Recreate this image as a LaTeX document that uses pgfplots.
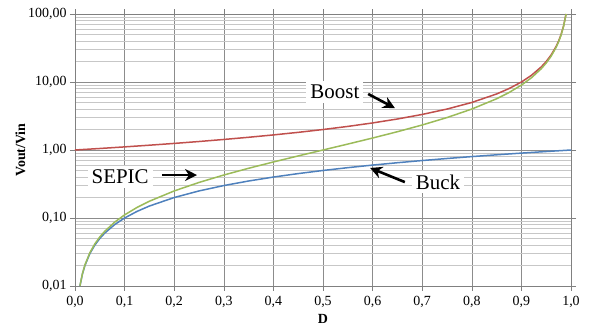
\documentclass[border=0pt]{standalone}
\usepackage{fontspec}
\setmainfont{Liberation Serif}
\usepackage{pgfplots}
\pgfplotsset{compat=1.18}
\usetikzlibrary{arrows.meta}
\definecolor{cred}{RGB}{192,80,77}
\definecolor{cgreen}{RGB}{155,187,89}
\definecolor{cblue}{RGB}{79,129,189}
\begin{document}
\begin{tikzpicture}
\path[use as bounding box] (-75bp,-43bp) rectangle (514bp,286bp);
\begin{axis}[at={(0,0)}, anchor=south west,
  scale only axis, width=496bp, height=272bp,
  xmin=0, xmax=1, ymode=log, ymin=0.01, ymax=100,
  xtick={0,0.1,...,1},
  xticklabels={{0,0},{0,1},{0,2},{0,3},{0,4},{0,5},{0,6},{0,7},{0,8},{0,9},{1,0}},
  ytick={0.01,0.1,1,10,100},
  yticklabels={{0,01},{0,10},{1,00},{10,00},{100,00}},
  minor ytick={0.02,0.03,0.04,0.05,0.06,0.07,0.08,0.09,0.2,0.3,0.4,0.5,0.6,0.7,0.8,0.9,2,3,4,5,6,7,8,9,20,30,40,50,60,70,80,90},
  grid=both,
  major grid style={draw=black!45, line width=0.6bp},
  minor grid style={draw=black!22, line width=1bp},
  axis line style={draw=black!50, line width=0.6bp},
  tick align=outside, major tick length=5bp, minor tick length=0pt,
  tick style={draw=black!50, line width=0.6bp},
  ticklabel style={font=\fontsize{14}{16}\selectfont},
  xticklabel style={yshift=-2bp},
  xlabel={\textbf{D}}, ylabel={\textbf{Vout/Vin}},
  label style={font=\fontsize{14}{16}\selectfont},
  xlabel style={yshift=0bp},
  ylabel style={yshift=-4bp},
  clip=true,
]
\addplot[cblue, line width=1.5bp] coordinates {
(0.01,0.01)(0.015,0.015)(0.02,0.02)(0.03,0.03)(0.04,0.04)(0.05,0.05)(0.06,0.06)(0.08,0.08)(0.1,0.1)(0.125,0.125)(0.15,0.15)(0.2,0.2)(0.25,0.25)(0.3,0.3)(0.35,0.35)(0.4,0.4)(0.45,0.45)(0.5,0.5)(0.55,0.55)(0.6,0.6)(0.65,0.65)(0.7,0.7)(0.75,0.75)(0.8,0.8)(0.85,0.85)(0.9,0.9)(0.95,0.95)(1,1)};
\addplot[cred, line width=1.5bp] coordinates {
(0,1)(0.05,1.0526)(0.1,1.1111)(0.15,1.1765)(0.2,1.25)(0.25,1.3333)(0.3,1.4286)(0.35,1.5385)(0.4,1.6667)(0.45,1.8182)(0.5,2)(0.55,2.2222)(0.6,2.5)(0.65,2.8571)(0.7,3.3333)(0.75,4)(0.8,5)(0.85,6.6667)(0.875,8)(0.9,10)(0.92,12.5)(0.94,16.667)(0.95,20)(0.96,25)(0.97,33.333)(0.975,40)(0.98,50)(0.985,66.667)(0.99,100)};
\addplot[cgreen, line width=1.5bp] coordinates {
(0.01,0.0101)(0.015,0.01523)(0.02,0.02041)(0.03,0.03093)(0.04,0.04167)(0.05,0.05263)(0.06,0.06383)(0.08,0.08696)(0.1,0.1111)(0.125,0.1429)(0.15,0.1765)(0.2,0.25)(0.25,0.3333)(0.3,0.4286)(0.35,0.5385)(0.4,0.6667)(0.45,0.8182)(0.5,1)(0.55,1.2222)(0.6,1.5)(0.65,1.8571)(0.7,2.3333)(0.75,3)(0.8,4)(0.85,5.6667)(0.875,7)(0.9,9)(0.92,11.5)(0.94,15.667)(0.95,19)(0.96,24)(0.97,32.333)(0.975,39)(0.98,49)(0.985,65.667)(0.99,99)(0.9901,100)};
\node[fill=white, inner sep=4bp, font=\fontsize{21}{24}\selectfont] at (rel axis cs:0.524,0.713) {Boost};
\node[fill=white, inner sep=4bp, font=\fontsize{21}{24}\selectfont] at (rel axis cs:0.732,0.382) {Buck};
\node[fill=white, inner sep=4bp, font=\fontsize{21}{24}\selectfont] at (rel axis cs:0.091,0.401) {SEPIC};
\draw[-{Stealth[length=12bp,width=12bp]}, line width=2.6bp] (rel axis cs:0.591,0.706) -- (rel axis cs:0.645,0.654);
\draw[-{Stealth[length=12bp,width=12bp]}, line width=2.6bp] (rel axis cs:0.665,0.382) -- (rel axis cs:0.595,0.434);
\draw[-{Stealth[length=12bp,width=12bp]}, line width=2.6bp] (rel axis cs:0.175,0.408) -- (rel axis cs:0.246,0.408);
\end{axis}
\end{tikzpicture}
\end{document}
